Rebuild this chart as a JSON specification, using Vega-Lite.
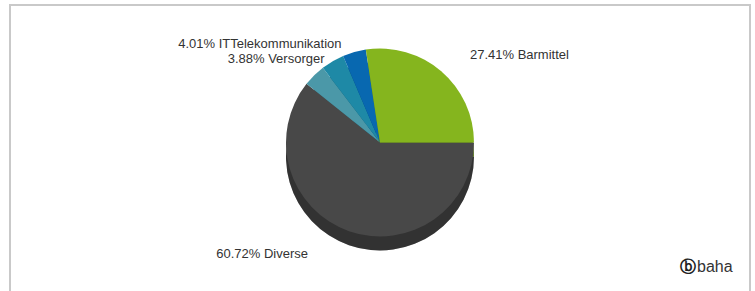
{
  "$schema": "https://vega.github.io/schema/vega-lite/v6.json",
  "width": 755,
  "height": 291,
  "autosize": {"type": "fit", "contains": "padding"},
  "padding": {"left": 10, "top": 5, "right": 5, "bottom": -5},
  "background": "white",
  "view": {"stroke": "#c9c9c9", "strokeWidth": 2, "fill": "white"},
  "config": {
    "view": {"stroke": "#c9c9c9", "strokeWidth": 2},
    "text": {"font": "Liberation Sans", "fontSize": 13, "color": "#333333"}
  },
  "layer": [
    {
      "data": {
        "values": [
          {"cat": "Diverse", "value": 60.72, "ord": 1, "label": "60.72% Diverse"},
          {"cat": "Versorger", "value": 3.88, "ord": 2, "label": "3.88% Versorger"},
          {"cat": "Andere", "value": 3.98, "ord": 3, "label": ""},
          {"cat": "ITTelekommunikation", "value": 4.01, "ord": 4, "label": "4.01% ITTelekommunikation"},
          {"cat": "Barmittel", "value": 27.41, "ord": 5, "label": "27.41% Barmittel"}
        ]
      },
      "encoding": {
        "theta": {"field": "value", "type": "quantitative", "stack": true, "scale": {"range": [1.5707963, 7.8539816]}},
        "order": {"field": "ord", "type": "quantitative"},
        "detail": {"field": "cat", "type": "nominal"},
        "color": {
          "field": "cat", "type": "nominal", "legend": null,
          "scale": {
            "domain": ["Diverse", "Versorger", "Andere", "ITTelekommunikation", "Barmittel"],
            "range": ["#484848", "#4b98a8", "#1e89a6", "#0868b0", "#85b51e"]
          }
        }
      },
      "layer": [
        {"mark": {"type": "arc", "radius": 94, "yOffset": 6}},
        {"mark": {"type": "arc", "radius": 94, "yOffset": 6, "opacity": 0.3}, "encoding": {"color": {"value": "black"}}},
        {"mark": {"type": "arc", "radius": 94, "yOffset": -8}},
        {
          "mark": {"type": "text", "radius": 115, "align": "left", "baseline": "middle", "dx": 15, "dy": -8},
          "encoding": {"color": {"value": "#333333"}, "text": {"condition": {"test": "datum.cat === 'Barmittel'", "field": "label"}, "value": ""}}
        },
        {
          "mark": {"type": "text", "radius": 115, "align": "right", "baseline": "middle", "dx": -7, "dy": 4},
          "encoding": {"color": {"value": "#333333"}, "text": {"condition": {"test": "datum.cat === 'ITTelekommunikation'", "field": "label"}, "value": ""}}
        },
        {
          "mark": {"type": "text", "radius": 115, "align": "right", "baseline": "middle", "dx": 25, "dy": -9},
          "encoding": {"color": {"value": "#333333"}, "text": {"condition": {"test": "datum.cat === 'Versorger'", "field": "label"}, "value": ""}}
        },
        {
          "mark": {"type": "text", "radius": 115, "align": "right", "baseline": "middle", "dx": -34, "dy": -5},
          "encoding": {"color": {"value": "#333333"}, "text": {"condition": {"test": "datum.cat === 'Diverse'", "field": "label"}, "value": ""}}
        }
      ]
    },
    {
      "data": {"values": [{"t": "ⓑ"}]},
      "mark": {"type": "text", "align": "center", "baseline": "middle", "fontSize": 16, "fontWeight": "bold", "font": "DejaVu Sans", "x": {"expr": "width - 62"}, "y": {"expr": "height - 29"}, "color": "#222222"},
      "encoding": {"text": {"field": "t"}}
    },
    {
      "data": {"values": [{"t": "baha"}]},
      "mark": {"type": "text", "align": "left", "baseline": "middle", "fontSize": 16, "x": {"expr": "width - 53"}, "y": {"expr": "height - 29"}, "color": "#333333"},
      "encoding": {"text": {"field": "t"}}
    }
  ]
}
